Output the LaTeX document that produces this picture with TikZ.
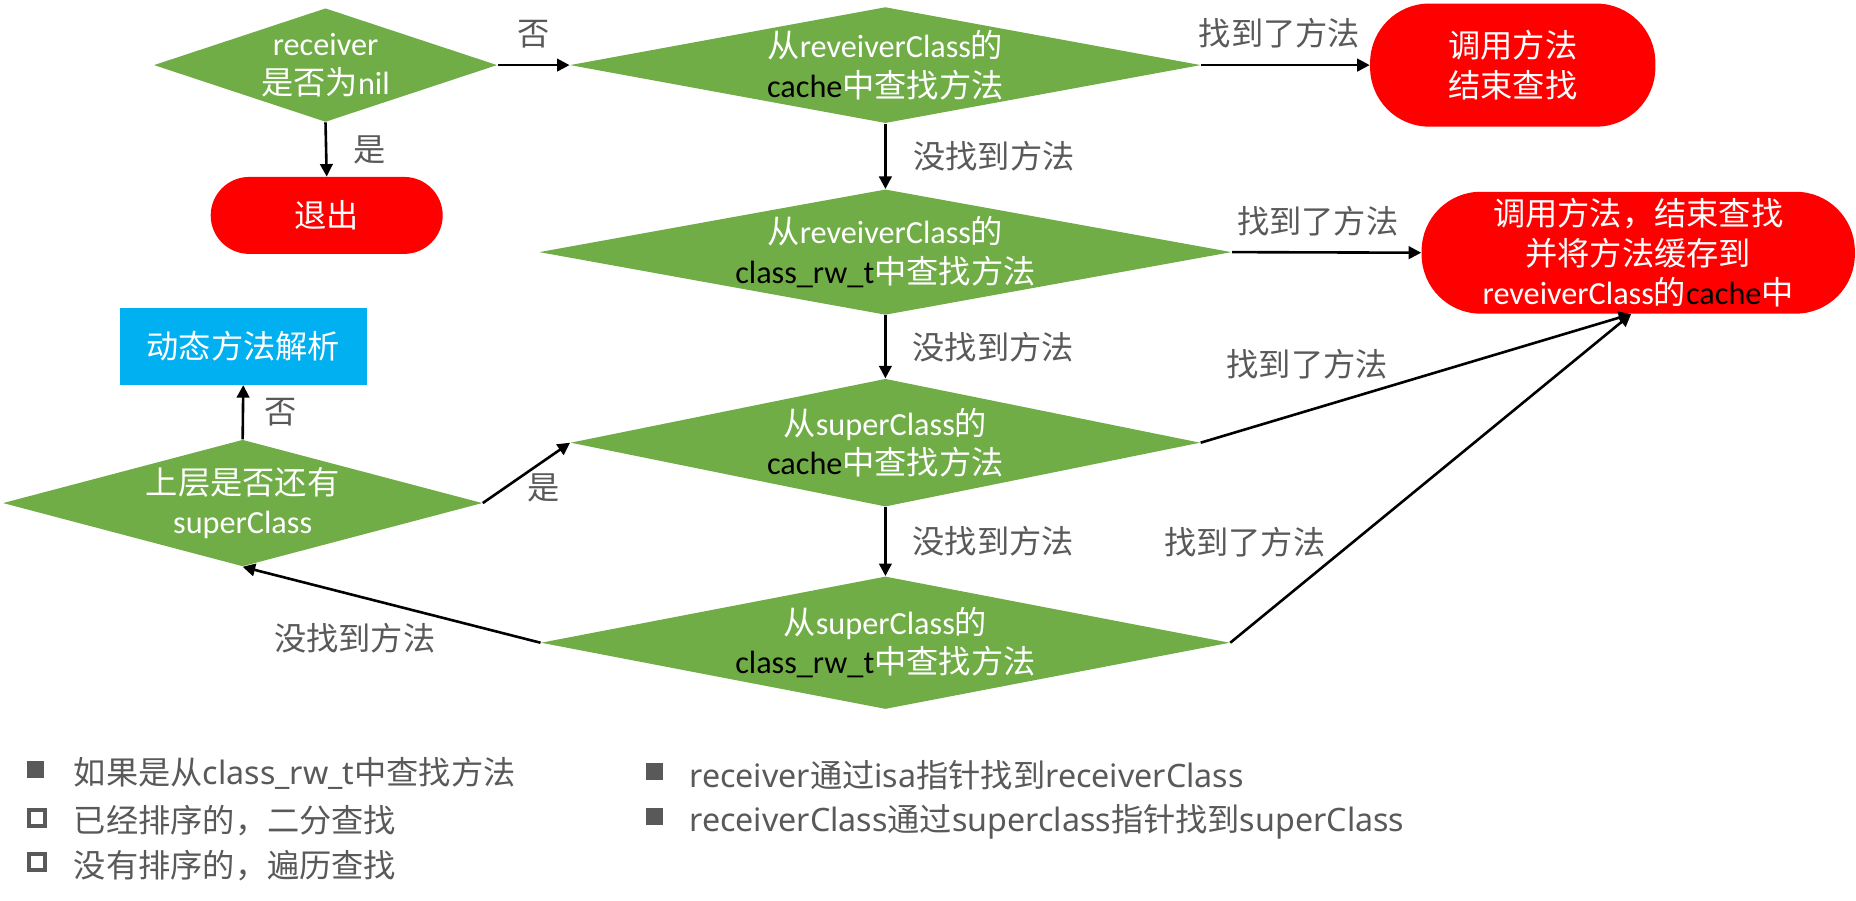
\documentclass[tikz,border=0pt]{standalone}
\usepackage{fontspec}
\setmainfont{Carlito}
\newfontfamily\cjkfont{Noto Sans CJK SC}
\newfontfamily\legfont{Noto Sans}
\newcommand{\zh}[1]{{\cjkfont #1}}
\usepackage{xcolor}
\definecolor{FlowGreen}{RGB}{112,173,71}
\definecolor{StopRed}{RGB}{255,0,0}
\definecolor{SkyBlue}{RGB}{0,176,240}
\definecolor{LabelGray}{RGB}{89,89,89}
\usepackage{tikz}
\usetikzlibrary{
  shapes, shapes.geometric,
  arrows.meta, calc
}
\tikzset{
  % Green decision diamond
  decision/.style={
    diamond, fill=FlowGreen, text=white,
    align=center, inner xsep=-4pt, inner ysep=0pt
  },
  % Red terminal box
  endbox/.style={
    rectangle, fill=StopRed, text=white,
    align=center, inner sep=1pt
  },
  % Blue action box
  dynbox/.style={
    rectangle, fill=SkyBlue, text=white,
    align=center, inner sep=1pt
  },
  % Arrows
  arr/.style={-{Triangle[length=6pt,width=6pt]}, line width=1.25pt, black},
  % Edge label
  elabel/.style={text=LabelGray, inner sep=0pt},
  % Legend
  legtext/.style={text=LabelGray, inner sep=0pt, anchor=west, font=\fontsize{15.5}{19}\legfont},
  legfull/.style={rectangle, fill=LabelGray, minimum size=0.28cm, inner sep=0pt},
  legopen/.style={rectangle, draw=LabelGray, line width=1.8pt, fill=white,
    minimum size=0.27cm, inner sep=0pt},
}

\begin{document}
\begin{tikzpicture}[font=\fontsize{15.5}{19}\selectfont]

  \useasboundingbox (0,0) rectangle (31.36,-15.22);

  %% Decisions
  \node[decision, aspect=3.02, minimum width=5.8cm, minimum height=1.92cm]
    (nilq) at (5.50,-1.10) {receiver\\\zh{是否为}nil};
  \node[decision, aspect=5.44, minimum width=10.66cm, minimum height=1.96cm]
    (rcache) at (14.96,-1.10) {\zh{从}reveiverClass\zh{的}\\{\color{black}cache}\zh{中查找方法}};
  \node[decision, aspect=5.52, minimum width=11.7cm, minimum height=2.12cm]
    (rrwt) at (14.96,-4.26) {\zh{从}reveiverClass\zh{的}\\{\color{black}class\_rw\_t}\zh{中查找方法}};
  \node[decision, aspect=4.93, minimum width=10.64cm, minimum height=2.16cm]
    (scache) at (14.96,-7.48) {\zh{从}superClass\zh{的}\\{\color{black}cache}\zh{中查找方法}};
  \node[decision, aspect=5.2, minimum width=11.64cm, minimum height=2.24cm]
    (srwt) at (14.96,-10.86) {\zh{从}superClass\zh{的}\\{\color{black}class\_rw\_t}\zh{中查找方法}};
  \node[decision, aspect=3.79, minimum width=8.1cm, minimum height=2.14cm]
    (upq) at (4.10,-8.50) {\zh{上层是否还有}\\superClass};

  %% Terminals
  \node[endbox, minimum width=3.92cm, minimum height=1.30cm, rounded corners=0.65cm]
    (quit) at (5.52,-3.64) {\zh{退出}};
  \node[endbox, minimum width=4.82cm, minimum height=2.08cm, rounded corners=1.0cm]
    (done1) at (25.56,-1.10) {\zh{调用方法}\\\zh{结束查找}};
  \node[endbox, minimum width=7.32cm, minimum height=2.06cm, rounded corners=1.0cm]
    (done2) at (27.68,-4.27) {\zh{调用方法，结束查找}\\\zh{并将方法缓存到}\\reveiverClass\zh{的}{\color{black}cache}\zh{中}};
  \node[dynbox, minimum width=4.18cm, minimum height=1.30cm]
    (dyn) at (4.11,-5.85) {\zh{动态方法解析}};

  \coordinate (hit) at ($(done2.south)+(-0.12,0)$);

  %% Connectors
  \draw[arr] (nilq.east) -- node[elabel, above=0.26cm] (lno1) {\zh{否}} (rcache.west);
  \draw[arr] (nilq.south) -- node[elabel, right=0.44cm] (lyes1) {\zh{是}} (quit.north);
  \draw[arr] (rcache.east) -- node[elabel, above=0.26cm, xshift=-0.1cm] (lfound1) {\zh{找到了方法}} (done1.west);
  \draw[arr] (rcache.south) -- node[elabel, right=0.45cm] (lmiss1) {\zh{没找到方法}} (rrwt.north);
  \draw[arr] (rrwt.east) -- node[elabel, above=0.26cm, xshift=-0.15cm] (lfound2) {\zh{找到了方法}} (done2.west);
  \draw[arr] (rrwt.south) -- node[elabel, right=0.44cm] (lmiss2) {\zh{没找到方法}} (scache.north);
  \draw[arr] (scache.east) -- node[elabel, pos=0.438, anchor=south east, yshift=0.1cm] (lfound3) {\zh{找到了方法}} (hit);
  \draw[arr] (scache.south) -- node[elabel, right=0.44cm] (lmiss3) {\zh{没找到方法}} (srwt.north);
  \draw[arr] (srwt.east) -- node[elabel, pos=0.255, anchor=south east, xshift=-0.1cm] (lfound4) {\zh{找到了方法}} (hit);
  \draw[arr] (srwt.west) -- node[elabel, pos=0.349, anchor=north east, yshift=-0.1cm] (lmiss4) {\zh{没找到方法}} (upq.south);
  \draw[arr] (upq.north) -- node[elabel, right=0.34cm] (lno2) {\zh{否}} (dyn.south);
  \draw[arr] (upq.east) -- node[elabel, midway, anchor=north west] (lyes2) {\zh{是}} (scache.west);

  %% Legend
  \node[legfull] (b1) at (0.60,-13.00) {};
  \node[legopen] (b2) at (0.62,-13.82) {};
  \node[legopen] (b3) at (0.62,-14.56) {};
  \node[legfull] (b4) at (11.06,-13.04) {};
  \node[legfull] (b5) at (11.06,-13.80) {};
  \node[legtext] (leg1) at (1.24,-13.06) {\zh{如果是从}class\_rw\_t\zh{中查找方法}};
  \node[legtext] (leg2) at (1.24,-13.86) {\zh{已经排序的，二分查找}};
  \node[legtext] (leg3) at (1.24,-14.62) {\zh{没有排序的，遍历查找}};
  \node[legtext] (leg4) at (11.64,-13.10) {receiver\zh{通过}isa\zh{指针找到}receiverClass};
  \node[legtext] (leg5) at (11.64,-13.88) {receiverClass\zh{通过}superclass\zh{指针找到}superClass};

\end{tikzpicture}
\end{document}
